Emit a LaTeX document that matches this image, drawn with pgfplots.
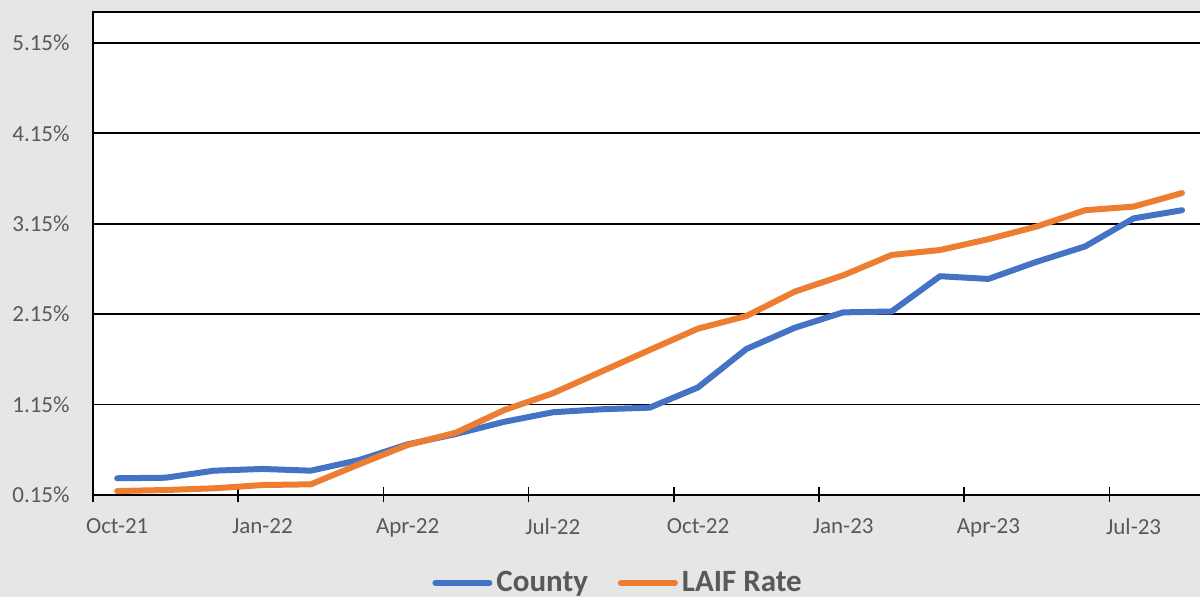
\documentclass[border=0pt]{standalone}
\usepackage{pgfplots}
\pgfplotsset{compat=1.18}
\usepackage{fontspec}
\setmainfont{Carlito}
\definecolor{bg}{HTML}{E7E6E6}
\definecolor{txt}{HTML}{595959}
\definecolor{cblue}{HTML}{4472C4}
\definecolor{corange}{HTML}{ED7D31}
\begin{document}
\begin{tikzpicture}
\path[use as bounding box, fill=bg] (-46.5pt,-51pt) rectangle (553.5pt,247.5pt);
\begin{axis}[
  at={(0,0)}, anchor=south west,
  scale only axis,
  width=556.6pt, height=241.5pt,
  xmin=-0.5, xmax=22.5,
  ymin=0.15, ymax=5.493,
  axis background/.style={fill=white},
  axis line style={black, line width=1pt},
  xtick={0,3,6,9,12,15,18,21},
  xticklabels={Oct-21,Jan-22,Apr-22,Jul-22,Oct-22,Jan-23,Apr-23,Jul-23},
  minor xtick={-0.5,2.5,5.5,8.5,11.5,14.5,17.5,20.5},
  ytick={0.15,1.15,2.15,3.15,4.15,5.15},
  yticklabels={0.15\%,1.15\%,2.15\%,3.15\%,4.15\%,5.15\%},
  major tick length=0pt,
  minor tick length=7.5pt,
  tick align=center,
  xtick pos=bottom, ytick pos=left,
  minor tick style={black, line width=0.8pt},
  ymajorgrids,
  major grid style={black, line width=0.9pt},
  tick label style={font=\fontsize{11.5}{13}\selectfont, text=txt},
  xticklabel style={anchor=north, inner sep=0pt, yshift=-11.5pt},
  yticklabel style={anchor=east, inner sep=0pt, xshift=-11.5pt},
  legend style={draw=none, fill=none, at={(0.4726,-0.182)}, anchor=center,
    legend columns=-1, font=\fontsize{15.5}{17}\selectfont\bfseries, text=txt,
    nodes={inner sep=2pt},
    /tikz/every even column/.append style={column sep=13pt}},
  legend image code/.code={\draw[#1] (0pt,0pt) -- (27pt,0pt);},
  every axis plot/.append style={line width=3pt, line cap=round, line join=round},
]
\addplot[cblue] coordinates {
(0,0.335) (1,0.341) (2,0.419) (3,0.438) (4,0.419) (5,0.537) (6,0.71)
(7,0.825) (8,0.96) (9,1.065) (10,1.098) (11,1.116) (12,1.34) (13,1.765)
(14,2.0) (15,2.17) (16,2.18) (17,2.57) (18,2.54) (19,2.73) (20,2.90)
(21,3.21) (22,3.30)};
\addlegendentry{County}
\addplot[corange] coordinates {
(0,0.194) (1,0.205) (2,0.224) (3,0.26) (4,0.268) (5,0.49) (6,0.703)
(7,0.84) (8,1.09) (9,1.275) (10,1.514) (11,1.754) (12,1.99) (13,2.13)
(14,2.40) (15,2.58) (16,2.805) (17,2.86) (18,2.98) (19,3.12) (20,3.30)
(21,3.34) (22,3.49)};
\addlegendentry{LAIF Rate}
\end{axis}
\end{tikzpicture}
\end{document}
